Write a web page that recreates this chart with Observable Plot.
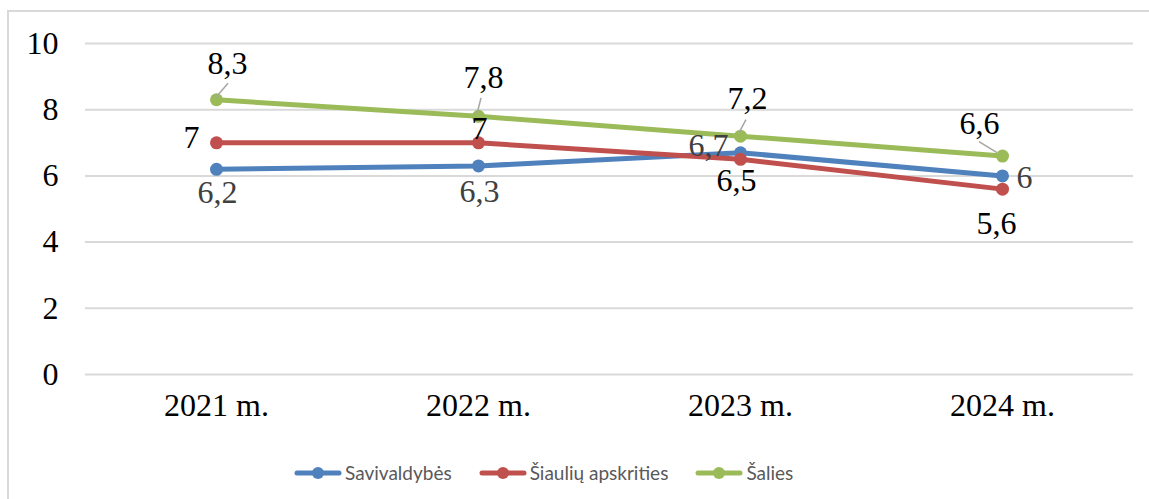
<!DOCTYPE html>
<html>
<head>
<meta charset="utf-8">
<script src="https://cdn.jsdelivr.net/npm/d3@7"></script>
<script src="https://cdn.jsdelivr.net/npm/@observablehq/plot@0.6"></script>
<style>
  html, body { margin: 0; padding: 0; background: #fff; }
  body { width: 1149px; height: 499px; overflow: hidden; position: relative; }
  #frame { position: absolute; left: 7px; top: 10px; width: 1300px; height: 700px; border: 2px solid #d9d9d9; box-sizing: border-box; }
  #chart { position: absolute; left: 0; top: 0; }
  #chart svg, #chart svg text { font-family: "Liberation Serif", Tinos, "Times New Roman", Times, serif !important; }
  #legend { position: absolute; top: 461px; left: 294px; display: flex; align-items: center;
            font-family: Lato, "Open Sans", sans-serif; font-size: 19px; color: #595959; }
  .item { display: flex; align-items: center; margin-right: 27px; }
  .item svg { margin-right: 3px; }
</style>
</head>
<body>
<div id="frame"></div>
<div id="chart"></div>
<div id="legend"></div>
<script>
// ---- data ----
const years = ["2021 m.", "2022 m.", "2023 m.", "2024 m."];
const seriesNames = ["Savivaldybės", "Šiaulių apskrities", "Šalies"];
const savivaldybes = [6.2, 6.3, 6.7, 6.0];
const siauliu = [7.0, 7.0, 6.5, 5.6];
const salies = [8.3, 7.8, 7.2, 6.6];
const yTicks = [0, 2, 4, 6, 8, 10];

// ---- styling / placement (not data) ----
const colors = ["#4F81BD", "#C0504D", "#9BBB59"];
const labelColors = ["#404040", "#000000", "#000000"];
// label offsets in px from each point: [dx, dy]
const labelOffsets = [
  [[1, 23], [1, 26], [-32, -7], [22, 2]],
  [[-25, -5], [1, -14], [-4, 21], [-6, 35]],
  [[11, -36], [5, -39], [7, -37], [-23, -32]]
];
// leader lines for the third series: [dx1, dy1, dx2, dy2]
const leaders = [[0, -2, 12, -16], [-1, -2, 3, -18], [-1, -3, 6, -16], [-5, -3, -23, -14]];

const values = [savivaldybes, siauliu, salies];
const rows = [];
values.forEach((arr, s) => arr.forEach((v, i) => rows.push({series: seriesNames[s], s, i, year: years[i], value: v})));

const FS = 32;
const marks = [
  Plot.gridY(yTicks, {stroke: "#d9d9d9", strokeOpacity: 1, strokeWidth: 2}),
  Plot.axisY(yTicks, {tickSize: 0, tickPadding: 27, fill: "#000", fontSize: FS}),
  Plot.axisX({tickSize: 0, tickPadding: 19, fill: "#000", fontSize: FS})
];
values.forEach((arr, s) => {
  const data = rows.filter(d => d.s === s);
  marks.push(Plot.line(data, {x: "year", y: "value", stroke: colors[s], strokeWidth: 5, strokeLinecap: "round", strokeLinejoin: "round"}));
  marks.push(Plot.dot(data, {x: "year", y: "value", fill: colors[s], r: 6.5, stroke: "none"}));
});
// leader lines
marks.push((index, scales) => {
  const g = d3.create("svg:g").attr("stroke", "#a6a6a6").attr("stroke-width", 1.5);
  rows.filter(d => d.s === 2).forEach(d => {
    const px = scales.x(d.year), py = scales.y(d.value);
    const [a, b, c, e] = leaders[d.i];
    g.append("line").attr("x1", px + a).attr("y1", py + b).attr("x2", px + c).attr("y2", py + e);
  });
  return g.node();
});
rows.forEach(d => {
  const [dx, dy] = labelOffsets[d.s][d.i];
  marks.push(Plot.text([d], {
    x: "year", y: "value",
    text: r => String(r.value).replace(".", ","),
    dx, dy, fill: labelColors[d.s], fontSize: FS, lineAnchor: "middle", textAnchor: "middle"
  }));
});

const chart = Plot.plot({
  width: 1149,
  height: 440,
  marginLeft: 85,
  marginRight: 16,
  marginTop: 43,
  marginBottom: 66,
  style: {fontSize: FS + "px", background: "transparent", overflow: "visible"},
  x: {type: "point", domain: years, padding: 0.5, label: null},
  y: {domain: [0, 10], label: null},
  marks
});
document.getElementById("chart").appendChild(chart);

// legend
const legend = document.getElementById("legend");
seriesNames.forEach((name, s) => {
  const item = document.createElement("div");
  item.className = "item";
  item.innerHTML = `<svg width="48" height="14"><line x1="3" y1="7" x2="45" y2="7" stroke="${colors[s]}" stroke-width="5" stroke-linecap="round"/><circle cx="24" cy="7" r="6" fill="${colors[s]}"/></svg><span>${name}</span>`;
  legend.appendChild(item);
});
</script>
</body>
</html>
